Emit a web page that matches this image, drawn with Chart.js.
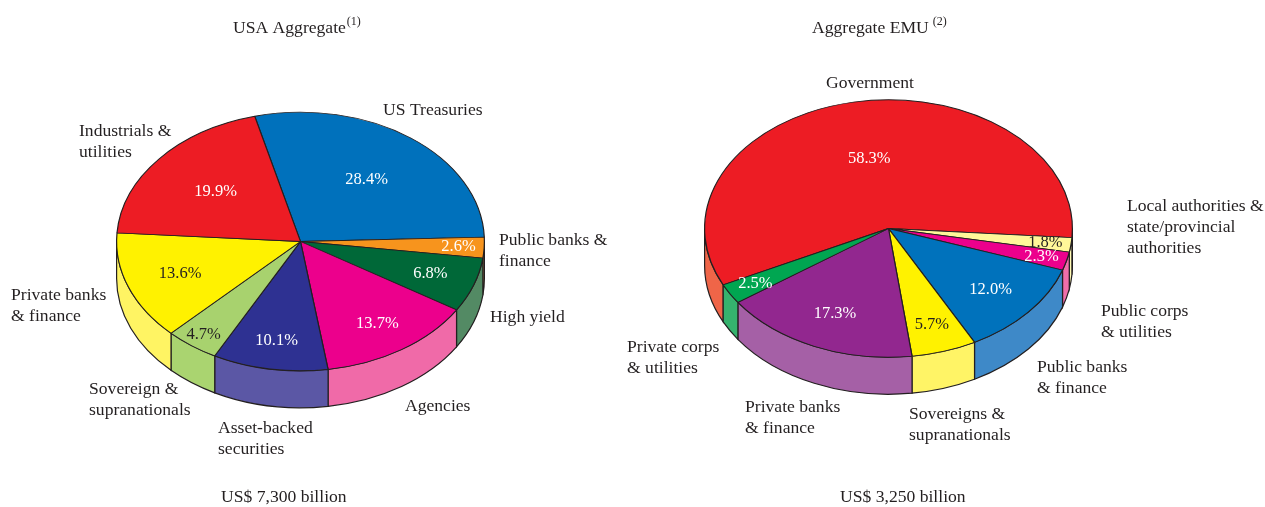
<!DOCTYPE html>
<html>
<head>
<meta charset="utf-8">
<script src="https://cdn.jsdelivr.net/npm/chart.js@4.4.1/dist/chart.umd.min.js"></script>
<style>
  body { margin: 0; background: #fff; }
  #wrap { position: relative; width: 1265px; height: 507px; }
  canvas { position: absolute; left: 0; top: 0; }
</style>
</head>
<body>
<div id="wrap">
  <canvas id="usaPie" width="1265" height="507"></canvas>
  <canvas id="emuPie" width="1265" height="507"></canvas>
</div>
<script>
// market breakdown, % of index
var usaSectors = [["US Treasuries"], ["Public banks &", "finance"], ["High yield"], ["Agencies"],
    ["Asset-backed", "securities"], ["Sovereign &", "supranationals"], ["Private banks", "& finance"],
    ["Industrials &", "utilities"]];
var usaShares = [28.4, 2.6, 6.8, 13.7, 10.1, 4.7, 13.6, 19.9];

var emuSectors = [["Government"], ["Local authorities &", "state/provincial", "authorities"],
    ["Public corps", "& utilities"], ["Public banks", "& finance"], ["Sovereigns &", "supranationals"],
    ["Private banks", "& finance"], ["Private corps", "& utilities"]];
var emuShares = [58.3, 1.8, 2.3, 12.0, 5.7, 17.3, 2.5];

var usaTitle = ["USA Aggregate", "(1)"];
var emuTitle = ["Aggregate EMU", "(2)"];
var usaTotal = "US$ 7,300 billion";
var emuTotal = "US$ 3,250 billion";

var EDGE = "#231F20";
var FONT = "'Liberation Serif', 'Times New Roman', serif";

// draws the pie squashed into an ellipse, with a wall along the front half
function pie3d(cfg) {
    return {
        id: "pie3d",
        beforeDatasetsDraw: function(chart) {
            var ctx = chart.ctx;
            var arcs = chart.getDatasetMeta(0).data;
            var cx = arcs[0].x, cy = arcs[0].y, r = arcs[0].outerRadius;
            var ry = r * cfg.tilt;
            ctx.save();
            ctx.lineWidth = 1.2;
            ctx.strokeStyle = EDGE;
            arcs.forEach(function(arc, i) {
                for (var k = -2; k <= 2; k++) {
                    var a = Math.max(arc.startAngle, 2 * Math.PI * k);
                    var b = Math.min(arc.endAngle, Math.PI + 2 * Math.PI * k);
                    if (b <= a) continue;
                    ctx.beginPath();
                    ctx.ellipse(cx, cy, r, ry, 0, a, b);
                    ctx.ellipse(cx, cy + cfg.depth, r, ry, 0, b, a, true);
                    ctx.closePath();
                    ctx.fillStyle = cfg.sides[i];
                    ctx.fill();
                    ctx.stroke();
                }
            });
            ctx.restore();
            ctx.save();
            ctx.translate(cx, cy);
            ctx.scale(1, cfg.tilt);
            ctx.translate(-cx, -cy);
        },
        afterDatasetsDraw: function(chart) {
            var ctx = chart.ctx;
            ctx.restore();
            var arcs = chart.getDatasetMeta(0).data;
            var values = chart.data.datasets[0].data;
            ctx.save();
            ctx.textBaseline = "middle";

            // percentages on the slices
            ctx.font = "16.5px " + FONT;
            ctx.textAlign = "center";
            arcs.forEach(function(arc, i) {
                var mid = (arc.startAngle + arc.endAngle) / 2;
                var f = cfg.pctRadius[i];
                var x = arc.x + Math.cos(mid) * arc.outerRadius * f;
                var y = arc.y + Math.sin(mid) * arc.outerRadius * cfg.tilt * f;
                ctx.fillStyle = cfg.pctColors[i];
                ctx.fillText(values[i].toFixed(1) + "%", x, y);
            });

            // sector names around the pie
            ctx.font = "17.6px " + FONT;
            ctx.textAlign = "left";
            ctx.fillStyle = EDGE;
            cfg.names.forEach(function(lines, i) {
                var p = cfg.namePos[i];
                lines.forEach(function(line, j) {
                    ctx.fillText(line, p[0], p[1] + j * 21);
                });
            });

            // title with note marker, and total below
            ctx.fillText(cfg.title[0], cfg.titlePos[0], cfg.titlePos[1]);
            var w = ctx.measureText(cfg.title[0]).width;
            ctx.fillText(cfg.total, cfg.totalPos[0], cfg.totalPos[1]);
            ctx.font = "12px " + FONT;
            ctx.fillText(cfg.title[1], cfg.titlePos[0] + w + cfg.noteGap, cfg.titlePos[1] - 6);
            ctx.restore();
        }
    };
}

function makePie(id, sectors, shares, colors, rotation, padding, cfg) {
    new Chart(document.getElementById(id).getContext("2d"), {
        type: "pie",
        data: {
            labels: sectors.map(function(s) { return s.join(" "); }),
            datasets: [{
                data: shares,
                backgroundColor: colors,
                borderColor: EDGE,
                borderWidth: 1.2,
                clip: false
            }]
        },
        options: {
            responsive: false,
            animation: false,
            events: [],
            rotation: rotation,
            layout: { padding: padding },
            plugins: { legend: { display: false }, tooltip: { enabled: false } }
        },
        plugins: [pie3d(cfg)]
    });
}

makePie("usaPie", usaSectors, usaShares,
    ["#0071BC", "#F7941D", "#006838", "#EC008C", "#2E3192", "#A8D26E", "#FFF200", "#ED1C24"],
    -14.4,
    { left: 116, right: 780, top: 57, bottom: 81 },
    {
        tilt: 0.703,
        depth: 37,
        sides: ["#3D8BCB", "#F9AE5B", "#538A64", "#F06AA8", "#5B57A5", "#AAD470", "#FFF463", "#F15A50"],
        pctRadius: [0.6, 0.86, 0.75, 0.76, 0.78, 0.89, 0.7, 0.6],
        pctColors: ["#fff", "#fff", "#fff", "#fff", "#fff", EDGE, EDGE, "#fff"],
        names: usaSectors,
        namePos: [[383, 110], [499, 240], [490, 317], [405, 406], [218, 428], [89, 389], [11, 295], [79, 131]],
        title: usaTitle,
        titlePos: [233, 28],
        noteGap: 1,
        total: usaTotal,
        totalPos: [221, 497]
    });

makePie("emuPie", emuSectors, emuShares,
    ["#ED1C24", "#FFF799", "#EC008C", "#0072BC", "#FFF200", "#92278F", "#00A651"],
    244,
    { left: 704, right: 192, top: 44, bottom: 94 },
    {
        tilt: 0.70,
        depth: 37,
        sides: ["#EF6548", "#FFFAB5", "#F06EAA", "#3E89C8", "#FFF466", "#A560A6", "#35B36E"],
        pctRadius: [0.55, 0.86, 0.86, 0.73, 0.78, 0.72, 0.84],
        pctColors: ["#fff", EDGE, "#fff", "#fff", EDGE, "#fff", "#fff"],
        names: emuSectors,
        namePos: [[826, 83], [1127, 206], [1101, 311], [1037, 367], [909, 414], [745, 407], [627, 347]],
        title: emuTitle,
        titlePos: [812, 28],
        noteGap: 4,
        total: emuTotal,
        totalPos: [840, 497]
    });
</script>
</body>
</html>
